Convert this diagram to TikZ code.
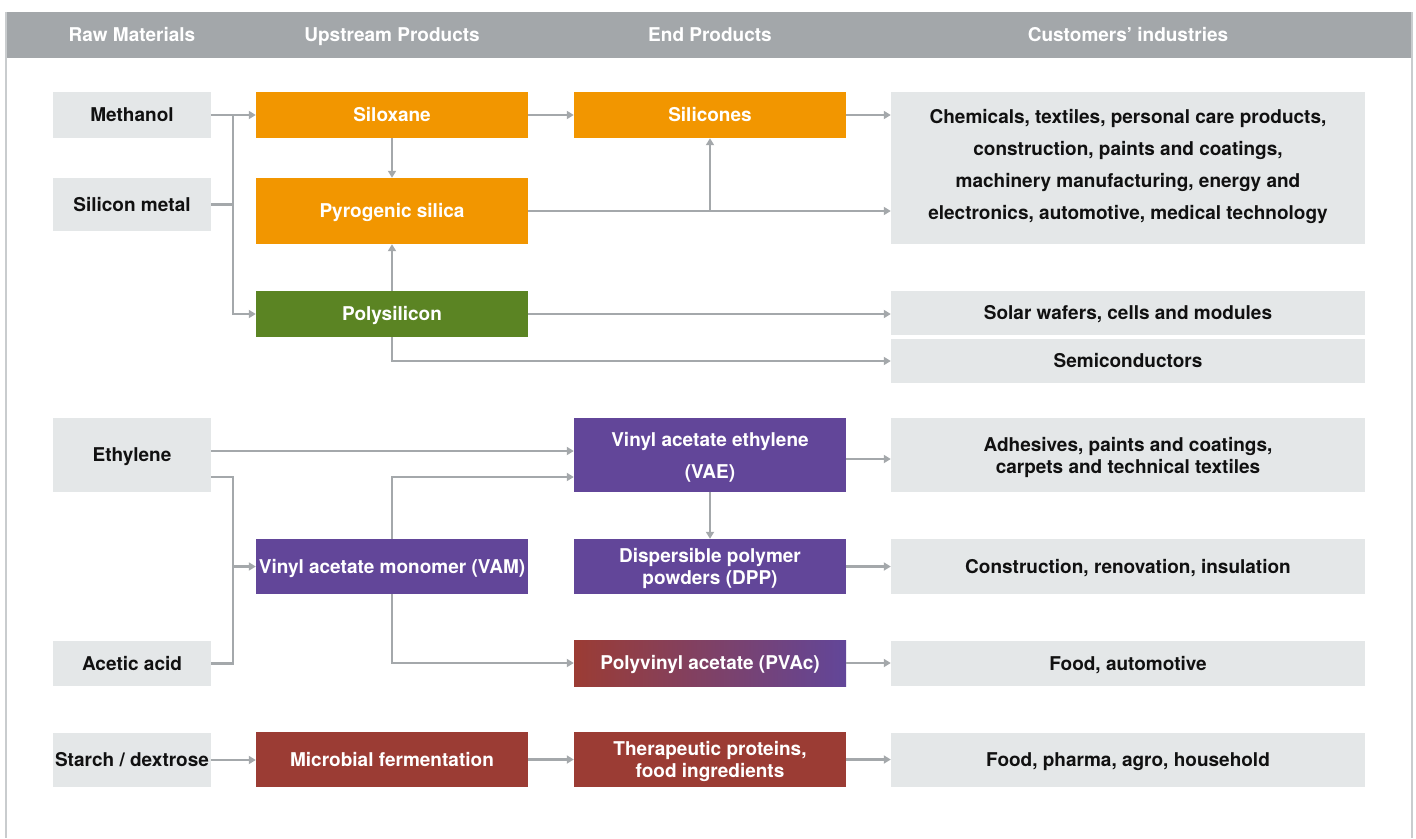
\documentclass[tikz,border=0pt]{standalone}
\usepackage{fontspec}
\setmainfont{TeX Gyre Heros}
\usetikzlibrary{arrows.meta,calc}
\definecolor{hdr}{HTML}{A3A7AA}
\definecolor{frm}{HTML}{C9CCCE}
\definecolor{gbox}{HTML}{E4E7E8}
\definecolor{orng}{HTML}{F29600}
\definecolor{grn}{HTML}{5B8423}
\definecolor{prp}{HTML}{624699}
\definecolor{brn}{HTML}{9B3C34}
\definecolor{conn}{HTML}{A4A8AB}
\definecolor{txt}{HTML}{111111}
\begin{document}
\begin{tikzpicture}[x=1pt,y=-1pt,
  base/.style={inner sep=0pt, align=center, text height=13.7pt, text depth=0pt, font=\bfseries\fontsize{19}{22}\selectfont},
  multi/.style={text height=, text depth=0pt},
  sz/.style 2 args={minimum width=#1pt, minimum height=#2pt},
  graybox/.style={base, fill=gbox, text=txt},
  orbox/.style={base, fill=orng, text=white},
  grbox/.style={base, fill=grn, text=white},
  prbox/.style={base, fill=prp, text=white},
  bnbox/.style={base, fill=brn, text=white},
  hdrtext/.style={base, text=white},
  wide/.style={font=\bfseries\fontsize{19}{32}\selectfont},
  arr/.style={draw=conn, line width=2.2pt, -{Triangle[length=7pt,width=8pt]}},
  ln/.style={draw=conn, line width=2.2pt}
]
\useasboundingbox (0,0) rectangle (1416,838);
% frame and header
\fill[hdr] (6,12) rectangle (1412,58);
\draw[frm, line width=1.5pt] (6,12) -- (6,838);
\draw[frm, line width=1.5pt] (1412,12) -- (1412,838);
\node[hdrtext] (h1) at (132,35) {Raw Materials};
\node[hdrtext] (h2) at (392,35) {Upstream Products};
\node[hdrtext] (h3) at (710,35) {End Products};
\node[hdrtext] (h4) at (1128,35) {Customers’ industries};

% raw materials
\node[graybox, sz={158}{46}] (meth) at (132,115) {Methanol};
\node[graybox, sz={158}{53}] (sim) at (132,204.5) {Silicon metal};
\node[graybox, sz={158}{74}] (eth) at (132,455) {Ethylene};
\node[graybox, sz={158}{45}] (ace) at (132,663.5) {Acetic acid};
\node[graybox, sz={158}{54}] (sta) at (132,760) {Starch / dextrose};

% upstream
\node[orbox, sz={272}{46}] (silox) at (392,115) {Siloxane};
\node[orbox, sz={272}{66}] (pyro) at (392,211) {Pyrogenic silica};
\node[grbox, sz={272}{46}] (poly) at (392,314) {Polysilicon};
\node[prbox, sz={272}{55}] (vam) at (392,566.5) {Vinyl acetate monomer (VAM)};
\node[bnbox, sz={272}{55}] (micro) at (392,759.5) {Microbial fermentation};

% end products
\node[prbox, multi, wide, sz={272}{74}] (vae) at (710,455) {Vinyl acetate ethylene\\(VAE)};
\node[orbox, sz={272}{46}] (silic) at (710,115) {Silicones};
\node[prbox, multi, sz={272}{55}] (dpp) at (710,566.5) {Dispersible polymer\\powders (DPP)};
\node[base, text=white, left color=brn, right color=prp, sz={272}{46}] (pvac) at (710,663) {Polyvinyl acetate (PVAc)};
\node[bnbox, multi, sz={272}{55}] (thera) at (710,759.5) {Therapeutic proteins,\\food ingredients};

% customers
\node[graybox, multi, wide, text depth=8pt, sz={474}{152}] (c1) at (1128,168) {Chemicals, textiles, personal care products,\\construction, paints and coatings,\\machinery manufacturing, energy and\\electronics, automotive, medical technology};
\node[graybox, sz={474}{44}] (c2) at (1128,313) {Solar wafers, cells and modules};
\node[graybox, sz={474}{44}] (c3) at (1128,361) {Semiconductors};
\node[graybox, multi, sz={474}{74}] (c4) at (1128,455) {Adhesives, paints and coatings,\\carpets and technical textiles};
\node[graybox, sz={474}{55}] (c5) at (1128,566.5) {Construction, renovation, insulation};
\node[graybox, sz={474}{45}] (c6) at (1128,663.5) {Food, automotive};
\node[graybox, sz={474}{54}] (c7) at (1128,760) {Food, pharma, agro, household};

% junction coordinates
\coordinate (j1) at (233,115);
\coordinate (j2) at (233,566.5);

% silicon connectors
\draw[arr] (meth.east) -- (silox.west);
\draw[arr] (j1) |- (poly.west);
\draw[ln] (sim.east) -- (sim.east -| j1);
\draw[arr] (silox.south) -- (pyro.north);
\draw[arr] (poly.north) -- (pyro.south);
\draw[arr] (silox.east) -- (silic.west);
\draw[arr] (silic.east) -- (silic.east -| c1.west);
\draw[arr] (pyro.east) -- (pyro.east -| c1.west);
\draw[arr] (silic.south |- pyro.east) -- (silic.south);
\draw[arr] (poly.east) -- (poly.east -| c2.west);
\draw[arr] (poly.south) |- (c3.west);

% vinyl connectors
\draw[arr] ($(eth.east)+(0,-4)$) -- ($(vae.west)+(0,-4)$);
\draw[ln] ($(eth.east)+(0,22)$) -| (j2) |- (ace.east);
\draw[arr] (j2) -- (vam.west);
\draw[arr] (vam.north) |- ($(vae.west)+(0,22)$);
\draw[arr] (vam.south) |- (pvac.west);
\draw[arr] (vae.south) -- (dpp.north);
\draw[arr] ($(vae.east)+(0,4)$) -- ($(c4.west)+(0,4)$);
\draw[arr] (dpp.east) -- (c5.west);
\draw[arr] (pvac.east) -- (pvac.east -| c6.west);

% biotech connectors
\draw[arr] (sta.east) -- (sta.east -| micro.west);
\draw[arr] (micro.east) -- (thera.west);
\draw[arr] (thera.east) -- (thera.east -| c7.west);
\end{tikzpicture}
\end{document}
